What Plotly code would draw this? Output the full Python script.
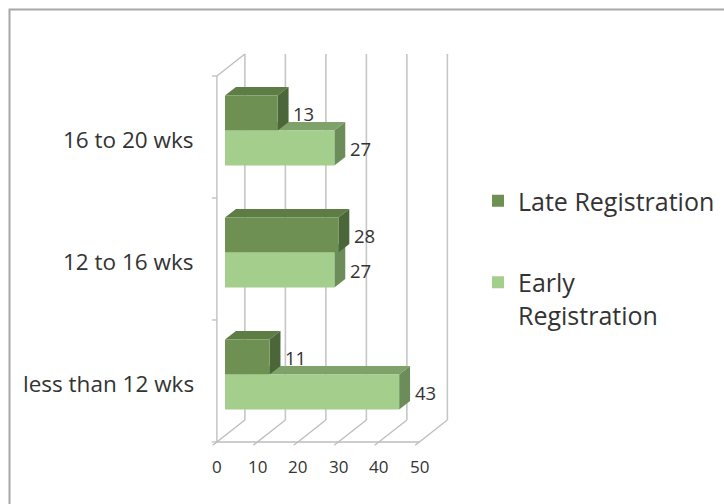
import plotly.graph_objects as go

# ---------------- data ----------------
categories = ["less than 12 wks", "12 to 16 wks", "16 to 20 wks"]
late_registration = [11, 28, 13]
early_registration = [43, 27, 27]
x_tick_values = [0, 10, 20, 30, 40, 50]
series_names = ["Late Registration", "Early<br>Registration"]

# ---------------- geometry (pseudo-3D projection) ----------------
W, H = 724, 504
SX = 4.05      # px per value unit
SY = 122.0     # px per category
X0 = 225.0     # px of value 0 on the bar front plane
Y0 = 374.6     # px of first category centre on the bar front plane
DXP, DYP = 28.0, 22.0          # depth offset px: floor front -> back wall
T_FRONT, T_BACK, T_BAR = -0.29, 0.71, 0.39
BAR_W = 35.0 / SY

xr = [-X0 / SX, (W - X0) / SX]
yr = [(Y0 - H) / SY, Y0 / SY]


def P(v, c, t):
    return v + t * DXP / SX, c + t * DYP / SY


def path(points):
    return "M " + " L ".join(f"{x:.4f},{y:.4f}" for x, y in points) + " Z"


text_col = "#333333"
late_cols = dict(front="#6E9153", top="#5D7D45", side="#4B6638")
early_cols = dict(front="#A3CE8C", top="#7FA26B", side="#6C8C59")

n = len(categories)
c_lo, c_hi = -0.5, n - 0.5
vmax = x_tick_values[-1]

shapes = []
grid = dict(color="#C6C6C6", width=1.6)
frame = dict(color="#BDBDBD", width=1.3)

# back-wall gridlines
for v in x_tick_values:
    a = P(v, c_lo, T_BACK)
    b = P(v, c_hi, T_BACK)
    shapes.append(dict(type="line", xref="x", yref="y", x0=a[0], y0=a[1], x1=b[0], y1=b[1],
                       line=grid, layer="below"))
# floor diagonals (with small tick extension at the front)
for v in x_tick_values:
    a = P(v, c_lo, T_FRONT - 0.15)
    b = P(v, c_lo, T_BACK)
    shapes.append(dict(type="line", xref="x", yref="y", x0=a[0], y0=a[1], x1=b[0], y1=b[1],
                       line=frame, layer="below"))
# floor front edge
a = P(0, c_lo, T_FRONT); b = P(vmax, c_lo, T_FRONT)
shapes.append(dict(type="line", xref="x", yref="y", x0=a[0], y0=a[1], x1=b[0], y1=b[1],
                   line=frame, layer="below"))
# left wall: front vertical and top diagonal
a = P(0, c_lo, T_FRONT); b = P(0, c_hi, T_FRONT)
shapes.append(dict(type="line", xref="x", yref="y", x0=a[0], y0=a[1], x1=b[0], y1=b[1],
                   line=frame, layer="below"))
a = P(0, c_hi, T_FRONT); b = P(0, c_hi, T_BACK)
shapes.append(dict(type="line", xref="x", yref="y", x0=a[0], y0=a[1], x1=b[0], y1=b[1],
                   line=frame, layer="below"))
# category tick marks on the left wall
for k in range(n + 1):
    c = c_lo + k
    a = P(0, c, T_FRONT)
    shapes.append(dict(type="line", xref="x", yref="y", x0=a[0] - 5 / SX, y0=a[1], x1=a[0], y1=a[1],
                       line=frame, layer="below"))


def bar_faces(v, yc, cols):
    yt, yb = yc + BAR_W / 2, yc - BAR_W / 2
    top = [P(0, yt, 0), P(v, yt, 0), P(v, yt, T_BAR), P(0, yt, T_BAR)]
    side = [P(v, yb, 0), P(v, yt, 0), P(v, yt, T_BAR), P(v, yb, T_BAR)]
    return [
        dict(type="path", xref="x", yref="y", path=path(top), fillcolor=cols["top"],
             line=dict(width=0), layer="below"),
        dict(type="path", xref="x", yref="y", path=path(side), fillcolor=cols["side"],
             line=dict(width=0), layer="below"),
    ]


late_y = [i + BAR_W / 2 for i in range(n)]
early_y = [i - BAR_W / 2 for i in range(n)]
for i in range(n):
    shapes += bar_faces(early_registration[i], early_y[i], early_cols)
for i in range(n):
    shapes += bar_faces(late_registration[i], late_y[i], late_cols)

# border
shapes.append(dict(type="rect", xref="paper", yref="paper", x0=9.5 / W, y0=-0.05, x1=1.05,
                   y1=1 - 9.5 / H, line=dict(color="#A8A8A8", width=2), layer="above"))

fig = go.Figure()
fig.add_trace(go.Bar(y=late_y, x=late_registration, orientation="h", width=BAR_W,
                     name=series_names[0], legendgroup="a",
                     marker=dict(color=late_cols["front"], line=dict(width=0)), hoverinfo="skip"))
fig.add_trace(go.Bar(y=early_y, x=early_registration, orientation="h", width=BAR_W,
                     name=series_names[1], legendgroup="b",
                     marker=dict(color=early_cols["front"], line=dict(width=0)), hoverinfo="skip"))

annotations = []
# category labels
for i, lab in enumerate(categories):
    x, y = P(0, i, T_FRONT)
    annotations.append(dict(x=x, y=y, xref="x", yref="y", text=lab, showarrow=False,
                            xanchor="right", yanchor="middle", xshift=-21, yshift=-3,
                            font=dict(family="Open Sans", size=22.5, color=text_col)))
# value-axis labels
for v in x_tick_values:
    x, y = P(v, c_lo, T_FRONT)
    annotations.append(dict(x=x, y=y, xref="x", yref="y", text=str(v), showarrow=False,
                            xanchor="center", yanchor="middle", yshift=-25,
                            font=dict(family="Open Sans", size=17, color=text_col)))
# data labels
for vals, ys in ((late_registration, late_y), (early_registration, early_y)):
    for v, yc in zip(vals, ys):
        x, y = P(v, yc, 0)
        annotations.append(dict(x=x, y=y, xref="x", yref="y", text=str(v), showarrow=False,
                                xanchor="center", yanchor="middle", xshift=26,
                                font=dict(family="Open Sans", size=18.5, color=text_col)))

fig.update_layout(
    width=W, height=H,
    margin=dict(l=0, r=0, t=0, b=0),
    paper_bgcolor="white", plot_bgcolor="white",
    barmode="overlay",
    xaxis=dict(range=xr, visible=False, fixedrange=True),
    yaxis=dict(range=yr, visible=False, fixedrange=True),
    shapes=shapes,
    annotations=annotations,
    showlegend=True,
    legend=dict(x=478 / W, y=1 - 178 / H, xanchor="left", yanchor="top",
                traceorder="grouped", tracegroupgap=46, valign="top",
                font=dict(family="Open Sans", size=25, color=text_col),
                bgcolor="rgba(0,0,0,0)"),
)

fig.write_html("out.html")
